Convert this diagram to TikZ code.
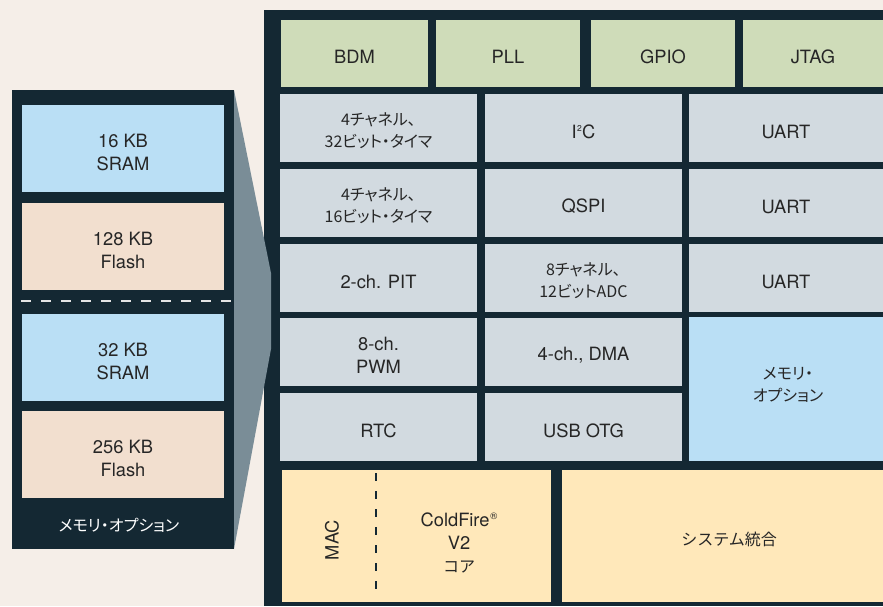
\documentclass[tikz,border=0pt]{standalone}
\usepackage{fontspec}
\setmainfont{TeX Gyre Heros}
\newfontfamily\cjk[RawFeature={+palt}]{Noto Sans CJK JP}
\newfontfamily\cjkfw{Noto Sans CJK JP}
\newcommand\latf{\fontsize{18.3}{23}\selectfont}
\newcommand\jpf{\cjk\fontsize{16}{22}\selectfont}
\newcommand\jpfw{\cjkfw\fontsize{16}{22}\selectfont}
\newcommand\supsmall[2]{\raisebox{#1}{\fontsize{8.5}{8.5}\selectfont #2}}
\definecolor{bgc}{HTML}{F5EEE8}
\definecolor{darkc}{HTML}{142833}
\definecolor{greenc}{HTML}{CFDCB9}
\definecolor{greyc}{HTML}{D2DAE0}
\definecolor{bluec}{HTML}{BADFF5}
\definecolor{peachc}{HTML}{F2DFCF}
\definecolor{yellowc}{HTML}{FFE8BA}
\definecolor{zoomc}{HTML}{7A8D97}
\definecolor{txtc}{HTML}{262626}
\definecolor{dashc}{HTML}{E4E4E4}
\begin{document}
\begin{tikzpicture}[x=1pt,y=-1pt,
  cell/.style={inner sep=0pt, outer sep=0pt, anchor=north west},
  wh/.style 2 args={minimum width=#1pt, minimum height=#2pt},
  lbl/.style={inner sep=0pt, align=center, text=txtc, font=\latf},
  t/.style={label={[lbl, yshift=-3.5pt]center:#1}},
  tj/.style={label={[lbl, font=\jpf, yshift=-3pt]center:#1}},
  gcell/.style={cell, fill=greenc},
  pcell/.style={cell, fill=greyc},
  bcell/.style={cell, fill=bluec},
  fcell/.style={cell, fill=peachc},
  ycell/.style={cell, fill=yellowc},
  panel/.style={cell, fill=darkc}
]
\useasboundingbox (0,0) rectangle (883,606);
\fill[bgc] (0,0) rectangle (883,606);

% main chip panel
\node[panel, wh={619}{596}] (chip) at (264,10) {};
% memory option panel
\node[panel, wh={222}{459}] (mempanel) at (12,90) {};
% zoom wedge
\fill[zoomc] (mempanel.north east) -- (271,273) -- (271,349) -- (mempanel.south east) -- cycle;

% left memory cells
\node[bcell, wh={202}{87}, t={16 KB\\SRAM}] (sram16) at (22,105) {};
\node[fcell, wh={202}{87}, t={128 KB\\Flash}] (flash128) at (22,203) {};
\coordinate (dashL) at (21,301);
\coordinate (dashR) at (234,301);
\draw[dashc, line width=2pt, dash pattern=on 10pt off 10pt] (dashL) -- (dashR);
\node[bcell, wh={202}{87}, t={32 KB\\SRAM}] (sram32) at (22,314) {};
\node[fcell, wh={202}{87}, t={256 KB\\Flash}] (flash256) at (22,411) {};
\node[lbl, font=\jpf, text=white] (memlabel) at (119,525) {メモリ・オプション};

% top green row
\node[gcell, wh={147}{67}, t=BDM] (bdm) at (281,20) {};
\node[gcell, wh={144}{67}, t=PLL] (pll) at (436,20) {};
\node[gcell, wh={144}{67}, t=GPIO] (gpio) at (591,20) {};
\node[gcell, wh={140}{67}, t=JTAG] (jtag) at (743,20) {};

% peripheral rows
\node[pcell, wh={197}{68}, tj={4チャネル、\\32ビット・タイマ}] (tmr32) at (280,94) {};
\node[pcell, wh={197}{68}, t={I\kern0.5pt\supsmall{7pt}{2}\kern0.3ptC}] (iic) at (485,94) {};
\node[pcell, wh={194}{68}, t=UART] (uart1) at (689,94) {};

\node[pcell, wh={197}{68}, tj={4チャネル、\\16ビット・タイマ}] (tmr16) at (280,169) {};
\node[pcell, wh={197}{68}, t=QSPI] (qspi) at (485,169) {};
\node[pcell, wh={194}{68}, t=UART] (uart2) at (689,169) {};

\node[pcell, wh={197}{68}, t={2-ch. PIT}] (pit) at (280,244) {};
\node[pcell, wh={197}{68}, tj={8チャネル、\\12ビットADC}] (adc) at (485,244) {};
\node[pcell, wh={194}{68}, t=UART] (uart3) at (689,244) {};

\node[pcell, wh={197}{68}, t={8-ch.\\PWM}] (pwm) at (280,318) {};
\node[pcell, wh={197}{68}, t={4-ch., DMA}] (dma) at (485,318) {};
\node[bcell, wh={194}{144}] (memopt) at (689,317) {};
\node[lbl, font=\jpf] (memoptT) at (788,385) {メモリ・\\オプション};

\node[pcell, wh={197}{68}, t=RTC] (rtc) at (280,393) {};
\node[pcell, wh={197}{68}, t={USB OTG}] (usb) at (485,393) {};

% bottom row
\node[ycell, wh={269}{132}] (core) at (282,470) {};
\node[ycell, wh={321}{132}] (sysint) at (562,470) {};
\node[lbl, font=\jpfw] (sysintT) at (729,539) {システム統合};
\coordinate (macT) at (376,473);
\coordinate (macB) at (376,593);
\draw[darkc, line width=1.3pt, dash pattern=on 8pt off 10pt] (macT) -- (macB);
\node[lbl, rotate=90] (mac) at (332,540) {MAC};
\node[lbl] (cf) at (459,543) {ColdFire\kern0.8pt\raisebox{7pt}{\fontsize{9.5}{9.5}\selectfont\textregistered}\\V2\\{\jpfw コア}};
\end{tikzpicture}
\end{document}
